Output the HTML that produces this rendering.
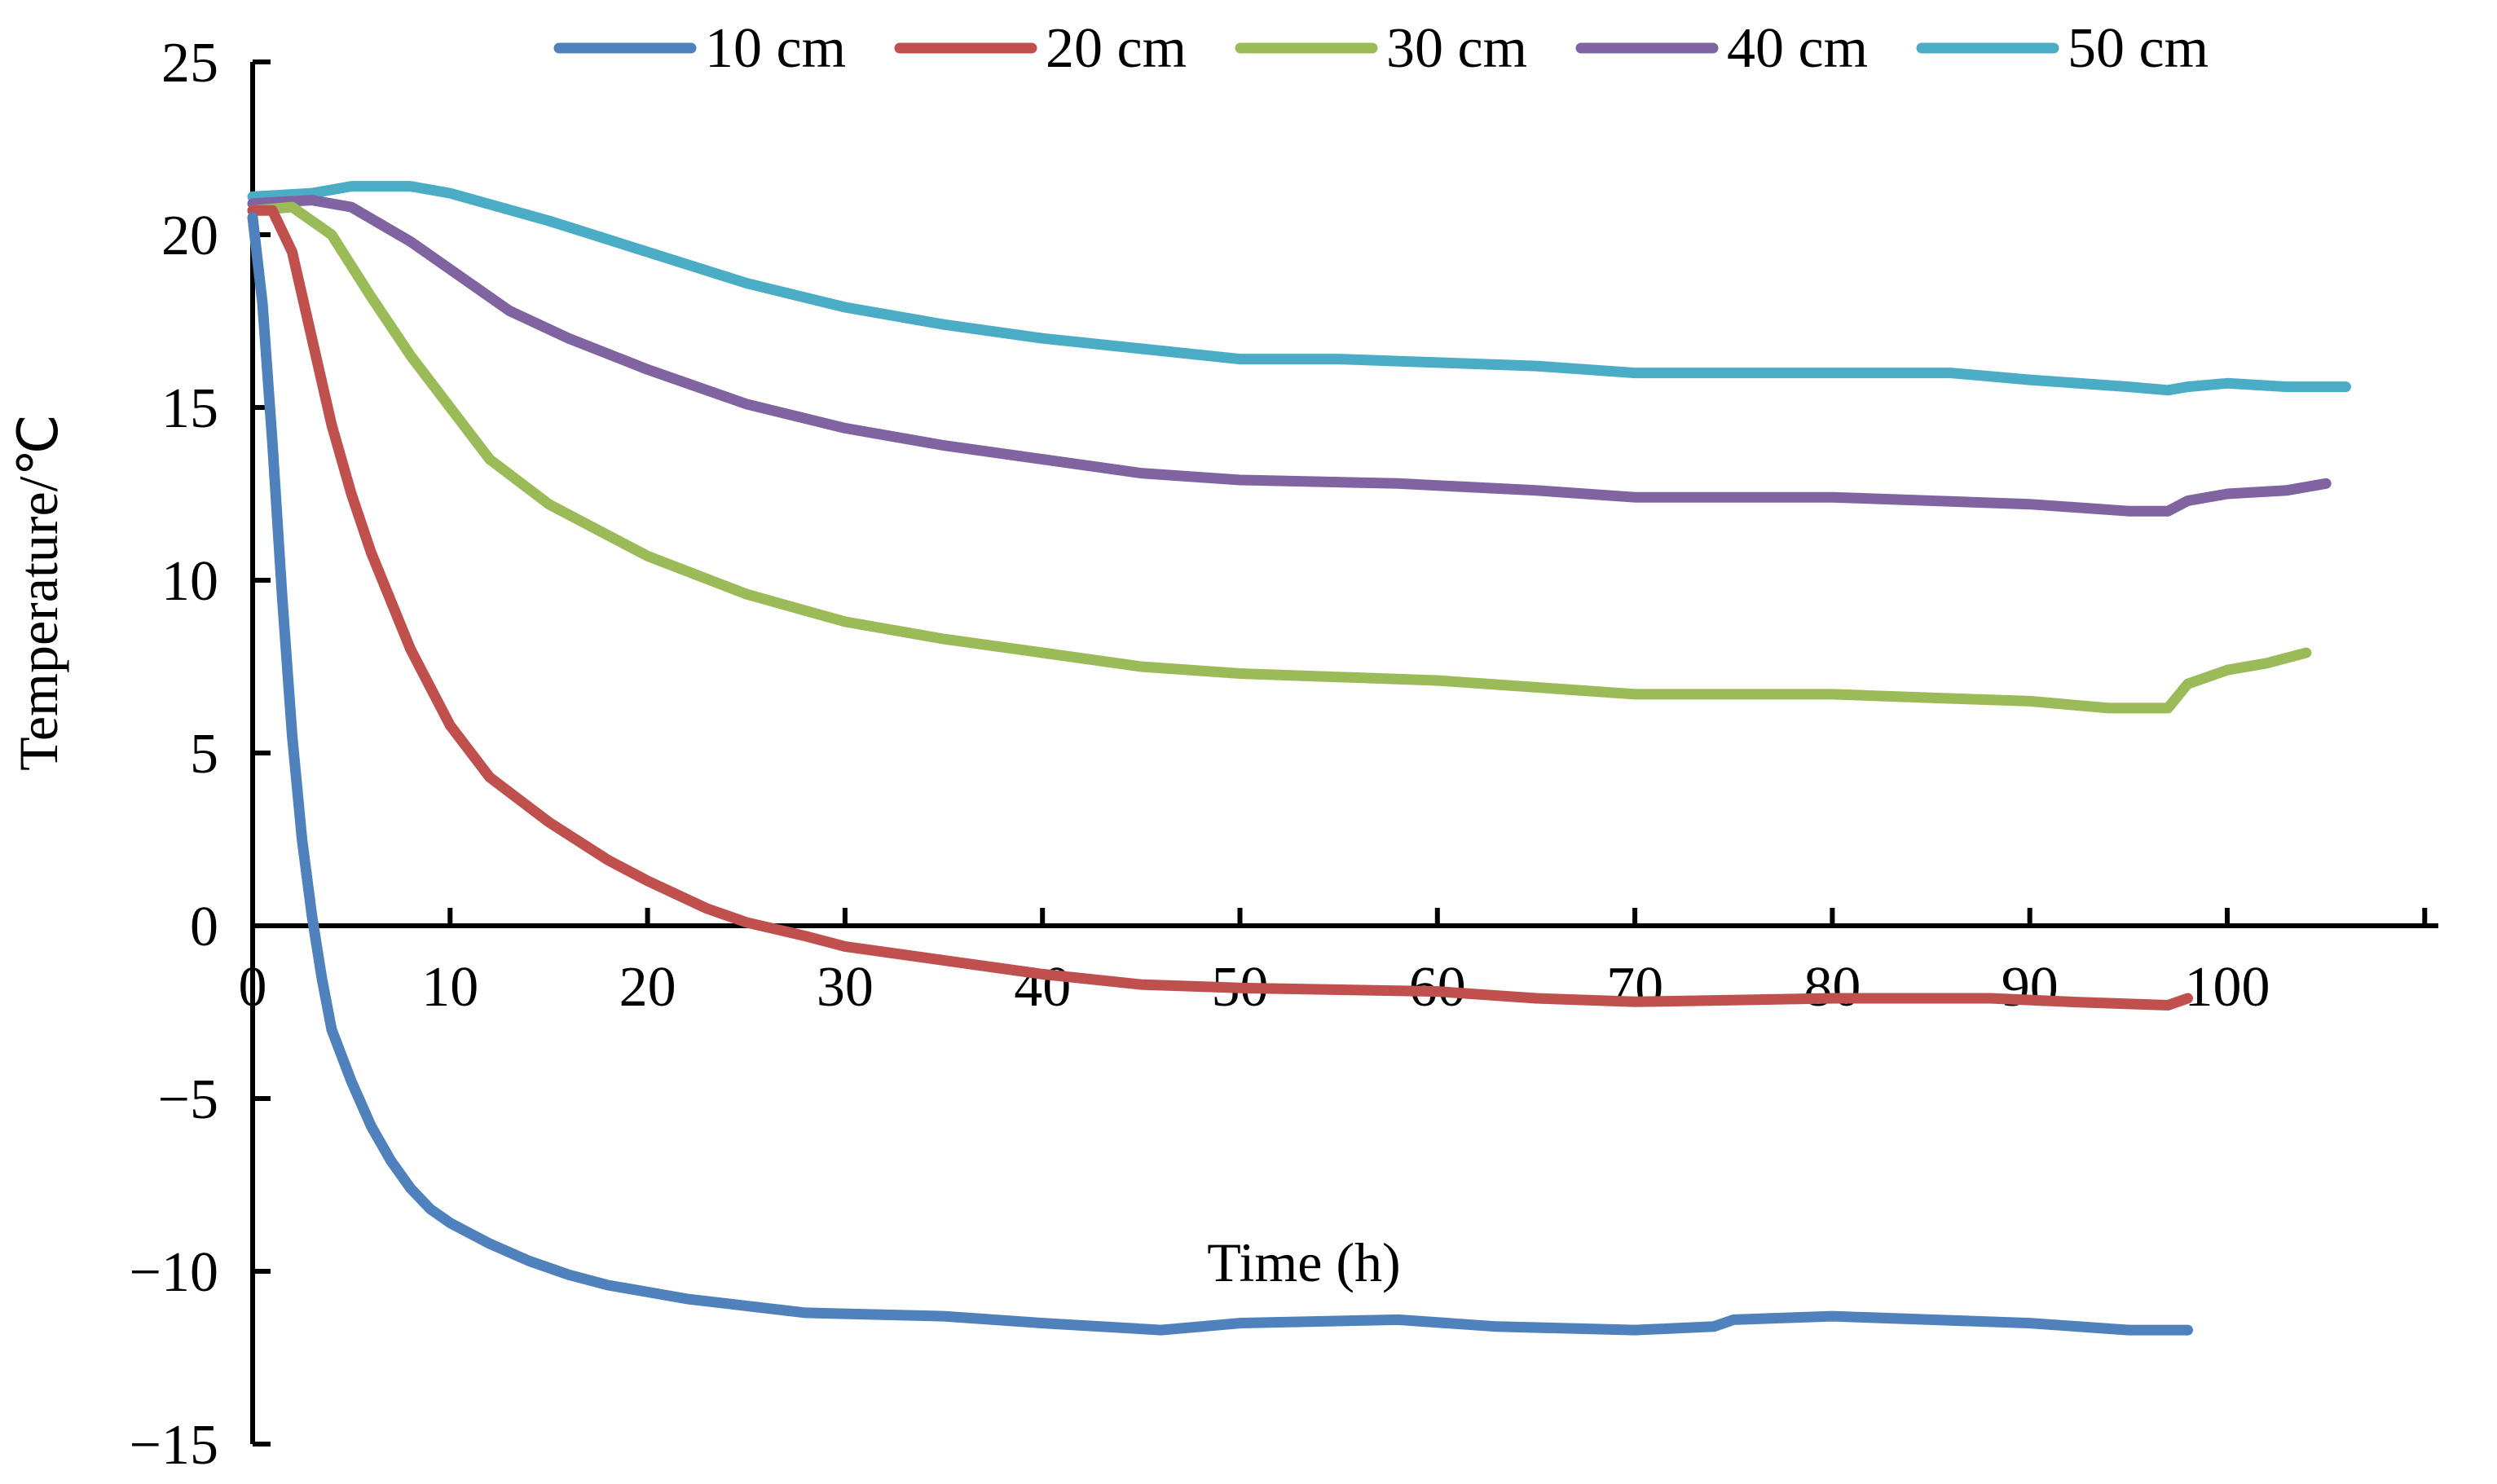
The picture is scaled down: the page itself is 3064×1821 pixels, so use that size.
<!DOCTYPE html>
<html><head><meta charset="utf-8"><style>
html,body{margin:0;padding:0;background:#fff;}
svg{display:block;}
text{font-family:"Liberation Serif",serif;fill:#000;}
</style></head><body>
<svg id="chart" width="3064" height="1821" viewBox="0 0 3064 1821" xmlns="http://www.w3.org/2000/svg">
<g id="axes"></g>
<g id="series"></g>
<g id="legend"></g>
<text x="0" y="0" font-size="68" text-anchor="middle" transform="translate(70,727) rotate(-90)">Temperature/℃</text>
<text x="1600" y="1572" font-size="68" text-anchor="middle">Time (h)</text>
</svg>
<script>
const seriesNames = ["10 cm","20 cm","30 cm","40 cm","50 cm"];
const seriesColors = ["#4F81BD","#C0504D","#9BBB59","#8064A2","#4BACC6"];
const xTicks = [0,10,20,30,40,50,60,70,80,90,100,110];
const xTickLabels = ["0","10","20","30","40","50","60","70","80","90","100",""];
const yTicks = [25,20,15,10,5,0,-5,-10,-15];
const yTickLabels = ["25","20","15","10","5","0","\u22125","\u221210","\u221215"];
const t10 = [0,0.5,1,1.5,2,2.5,3,3.5,4,5,6,7,8,9,10,12,14,16,18,20,22,25,28,35,40,46,50,58,63,70,74,75,80,85,90,95,98];
const v10 = [20.5,18,14,9.5,5.5,2.5,0.3,-1.5,-3,-4.5,-5.8,-6.8,-7.6,-8.2,-8.6,-9.2,-9.7,-10.1,-10.4,-10.6,-10.8,-11,-11.2,-11.3,-11.5,-11.7,-11.5,-11.4,-11.6,-11.7,-11.6,-11.4,-11.3,-11.4,-11.5,-11.7,-11.7];
const t20 = [0,1,2,3,4,5,6,8,10,12,15,18,20,23,25,28,30,35,40,45,50,60,65,70,80,88,92,97,98];
const v20 = [20.7,20.7,19.5,17,14.5,12.5,10.8,8,5.8,4.3,3,1.9,1.3,0.5,0.1,-0.3,-0.6,-1,-1.4,-1.7,-1.8,-1.9,-2.1,-2.2,-2.1,-2.1,-2.2,-2.3,-2.1];
const t30 = [0,2,4,6,8,10,12,15,18,20,25,30,35,40,45,50,60,65,70,80,85,90,94,97,98,100,102,104];
const v30 = [20.7,20.8,20,18.2,16.5,15,13.5,12.2,11.3,10.7,9.6,8.8,8.3,7.9,7.5,7.3,7.1,6.9,6.7,6.7,6.6,6.5,6.3,6.3,7,7.4,7.6,7.9];
const t40 = [0,3,5,8,10,13,16,20,25,30,35,40,45,50,58,65,70,80,90,95,97,98,100,103,105];
const v40 = [20.9,21,20.8,19.8,19,17.8,17,16.1,15.1,14.4,13.9,13.5,13.1,12.9,12.8,12.6,12.4,12.4,12.2,12,12,12.3,12.5,12.6,12.8];
const t50 = [0,3,5,8,10,15,20,25,30,35,40,45,50,55,60,65,70,80,86,90,95,97,98,100,103,106];
const v50 = [21.1,21.2,21.4,21.4,21.2,20.4,19.5,18.6,17.9,17.4,17,16.7,16.4,16.4,16.3,16.2,16,16,16,15.8,15.6,15.5,15.6,15.7,15.6,15.6];

const NS="http://www.w3.org/2000/svg";
const X0=310, XS=24.23, Y0=1136, YS=42.4, XEND=2992;
function xs(v){return X0+v*XS;}
function ys(v){return Y0-v*YS;}
function mk(tag,attrs,parent){const e=document.createElementNS(NS,tag);for(const k in attrs)e.setAttribute(k,attrs[k]);parent.appendChild(e);return e;}
const axes=document.getElementById('axes');
let e=mk('line',{x1:X0,y1:ys(25),x2:X0,y2:ys(-15),stroke:'#000','stroke-width':6},axes);


e=mk('line',{x1:X0,y1:Y0,x2:XEND,y2:Y0,stroke:'#000','stroke-width':6},axes);


yTicks.forEach((v,i)=>{
  const t=mk('line',{x1:X0,y1:ys(v),x2:X0+22,y2:ys(v),stroke:'#000','stroke-width':6},axes);
  
  
  const l=mk('text',{x:X0-42,y:ys(v)+24,'font-size':70,'text-anchor':'end'},axes);
  l.textContent=yTickLabels[i];
  
  
});
xTicks.forEach((v,i)=>{
  const t=mk('line',{x1:xs(v),y1:Y0,x2:xs(v),y2:Y0-22,stroke:'#000','stroke-width':6},axes);
  
  
  const l=mk('text',{x:xs(v),y:Y0+98,'font-size':70,'text-anchor':'middle'},axes);
  l.textContent=xTickLabels[i];
  
  
});
const allT=[t10,t20,t30,t40,t50], allV=[v10,v20,v30,v40,v50];
const sg=document.getElementById('series');
for(let s=4;s>=0;s--){
  const d=allT[s].map((t,i)=>(i?'L':'M')+xs(t).toFixed(1)+','+ys(allV[s][i]).toFixed(1)).join(' ');
  const p=mk('path',{d:d,fill:'none',stroke:seriesColors[s],'stroke-width':13,'stroke-linejoin':'round','stroke-linecap':'round'},sg);
  
  
}
const lg=document.getElementById('legend');
seriesNames.forEach((n,i)=>{
  const x=681+i*418;
  const g=mk('g',{},lg);
  
  
  mk('line',{x1:x+5,y1:59,x2:x+167,y2:59,stroke:seriesColors[i],'stroke-width':13,'stroke-linecap':'round'},g);
  const t=mk('text',{x:x+184,y:82,'font-size':70},g);
  t.textContent=n;
});
</script>
</body></html>
